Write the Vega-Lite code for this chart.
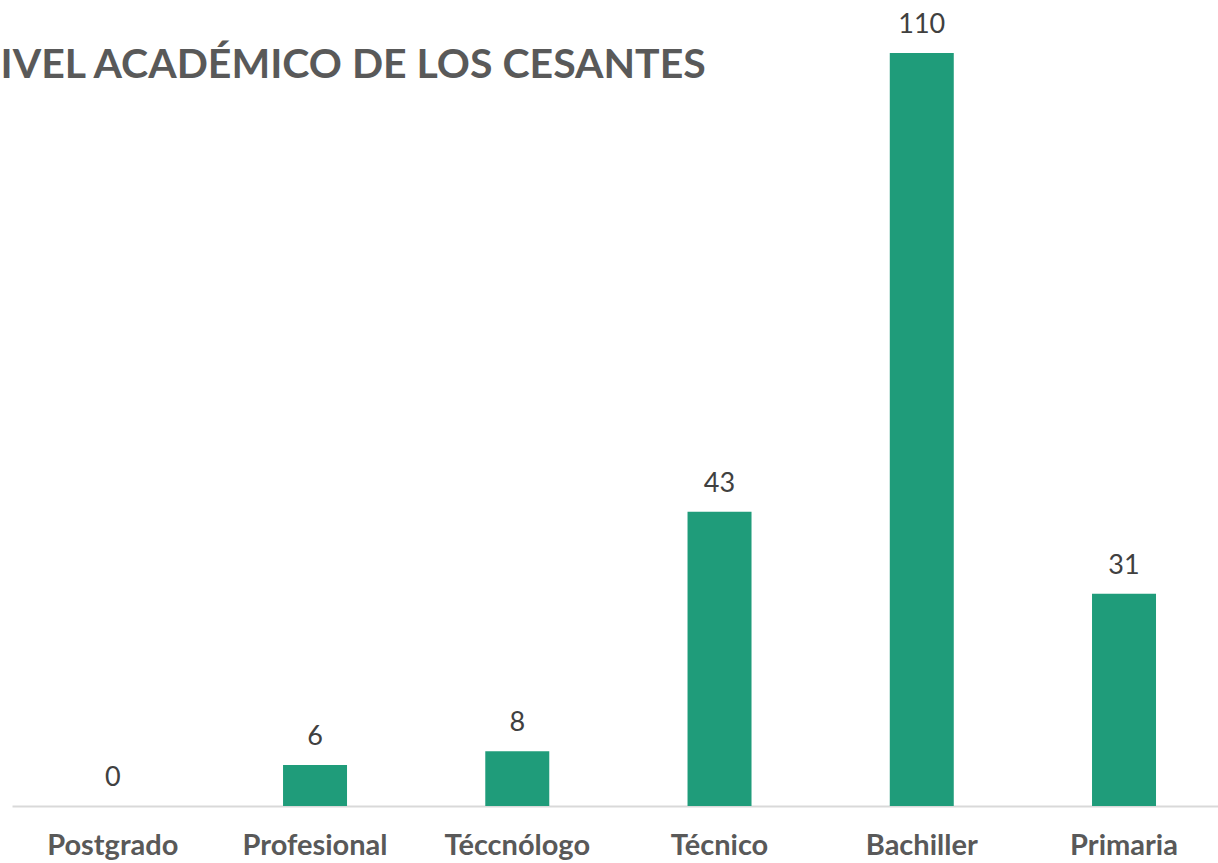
{
  "$schema": "https://vega.github.io/schema/vega-lite/v6.json",
  "autosize": {"type": "none"},
  "width": 1206,
  "height": 753,
  "padding": {"left": 12, "top": 53, "right": 0, "bottom": 57},
  "background": "white",
  "title": {
    "text": "NIVEL ACADÉMICO DE LOS CESANTES",
    "anchor": "start",
    "frame": "group",
    "orient": "top",
    "baseline": "alphabetic",
    "offset": -108,
    "dx": -43,
    "font": "Lato",
    "fontSize": 41,
    "fontWeight": "bold",
    "color": "#595959"
  },
  "config": {"view": {"stroke": null}},
  "data": {
    "values": [
      {"nivel": "Postgrado", "cesantes": 0},
      {"nivel": "Profesional", "cesantes": 6},
      {"nivel": "Téccnólogo", "cesantes": 8},
      {"nivel": "Técnico", "cesantes": 43},
      {"nivel": "Bachiller", "cesantes": 110},
      {"nivel": "Primaria", "cesantes": 31}
    ]
  },
  "encoding": {
    "x": {
      "field": "nivel",
      "type": "nominal",
      "sort": null,
      "scale": {"paddingInner": 0.6836, "paddingOuter": 0.3233, "align": 0.526},
      "axis": {
        "title": null,
        "ticks": false,
        "tickSize": 0,
        "labelAngle": 0,
        "labelPadding": 25,
        "labelFont": "Lato",
        "labelFontSize": 29,
        "labelFontWeight": "bold",
        "labelColor": "#595959",
        "domainColor": "#d9d9d9",
        "domainWidth": 2,
        "grid": false
      }
    },
    "y": {
      "field": "cesantes",
      "type": "quantitative",
      "scale": {"domain": [0, 110], "nice": false},
      "axis": null
    }
  },
  "layer": [
    {"mark": {"type": "bar", "color": "#1f9c7a"}},
    {
      "mark": {
        "type": "text",
        "baseline": "alphabetic",
        "dy": -20,
        "font": "Lato",
        "fontSize": 27,
        "color": "#404040"
      },
      "encoding": {"text": {"field": "cesantes", "type": "quantitative"}}
    }
  ]
}
